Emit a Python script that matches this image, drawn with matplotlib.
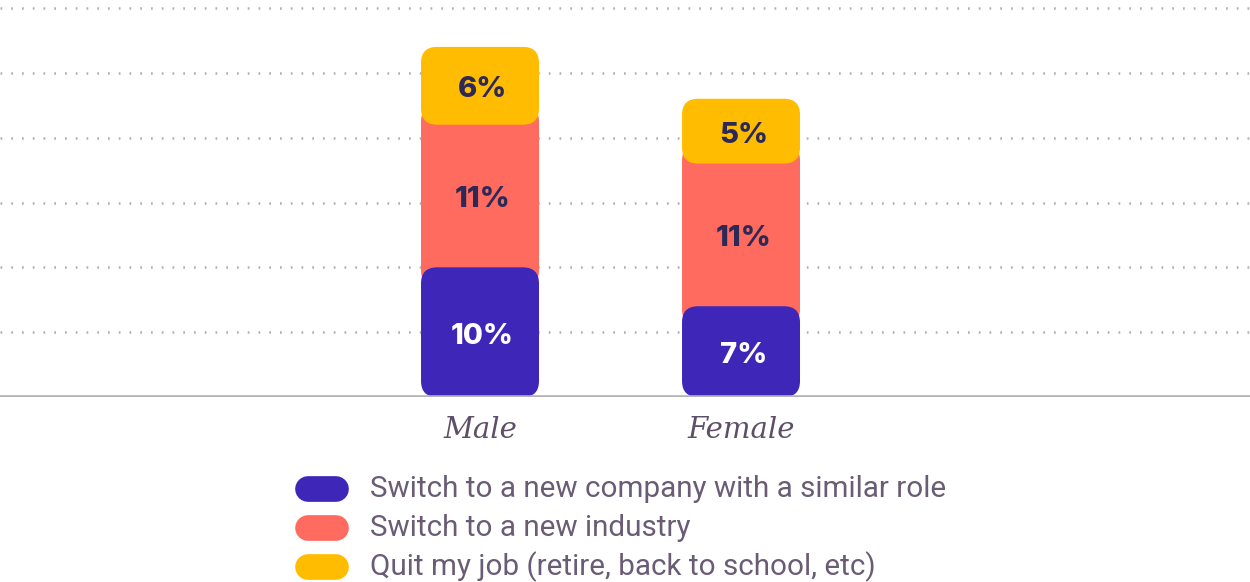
import matplotlib
matplotlib.use("Agg")
import matplotlib.pyplot as plt
from matplotlib.patches import FancyBboxPatch
from matplotlib.lines import Line2D

groups = ["Male", "Female"]
series_names = [
    "Switch to a new company with a similar role",
    "Switch to a new industry",
    "Quit my job (retire, back to school, etc)",
]
similar_role = [10, 7]
new_industry = [11, 11]
quit_job = [6, 5]

colors = ["#3E27B8", "#FF6B5E", "#FFBC00"]
label_colors = ["white", "#2D2956", "#2D2956"]

W, H = 1250, 582
fig = plt.figure(figsize=(W / 100, H / 100), dpi=100)
ax = fig.add_axes([0, 185 / H, 1, 389 / H])
ax.set_xlim(-1.839, 2.95)
ax.set_ylim(0, 30)
ax.axis("off")

# dotted guide lines every 5%
for gy in range(5, 31, 5):
    ax.axhline(gy, color="#B0B0B0", lw=1.8, ls=(0, (0.7, 3.6)), clip_on=False, zorder=0)
ax.axhline(0, color="#B4B3B8", lw=2.6, zorder=5)

bar_w = 0.452
# px per data unit, used to keep corners circular
px_x = W / (ax.get_xlim()[1] - ax.get_xlim()[0])
px_y = 389 / 30
aspect = px_x / px_y
r_px = 16
rx = r_px / px_x


def rounded(x0, y0, h, color, z):
    p = FancyBboxPatch((x0, y0), bar_w, h,
                       boxstyle=f"round,pad=0,rounding_size={rx}",
                       mutation_aspect=aspect, fc=color, ec="none", zorder=z)
    ax.add_patch(p)


for i, g in enumerate(groups):
    x0 = i - bar_w / 2
    a, b, c = similar_role[i], new_industry[i], quit_job[i]
    overlap = r_px / px_y * 1.2
    # orange runs under its neighbours so only the yellow/blue corners show
    rounded(x0, a - overlap, b + 2 * overlap, colors[1], 2)
    rounded(x0, a + b, c, colors[2], 3)
    rounded(x0, 0, a, colors[0], 3)
    for val, base, tc in [(a, 0, label_colors[0]), (b, a, label_colors[1]), (c, a + b, label_colors[2])]:
        ax.text(i + 0.01, base + val / 2 - 0.3, f"{val}%", ha="center", va="center",
                fontsize=21, fontweight="heavy", family="Inter", color=tc, zorder=6)
    ax.text(i, -1.5, g, ha="center", va="top", fontsize=21, style="italic",
            family="DejaVu Serif", color="#5E4F68", zorder=6)

# legend with pill markers
rows_y = [489, 528, 567]
for name, col, yy in zip(series_names, colors, rows_y):
    fy = 1 - yy / H
    fig.add_artist(Line2D([308 / W, 336 / W], [fy, fy], color=col, lw=18.5,
                          solid_capstyle="round", transform=fig.transFigure))
    fig.text(370 / W, fy, name, ha="left", va="center", fontsize=21.3,
             family="Roboto", color="#6A5C75")

fig.savefig("out.png", dpi=100)
